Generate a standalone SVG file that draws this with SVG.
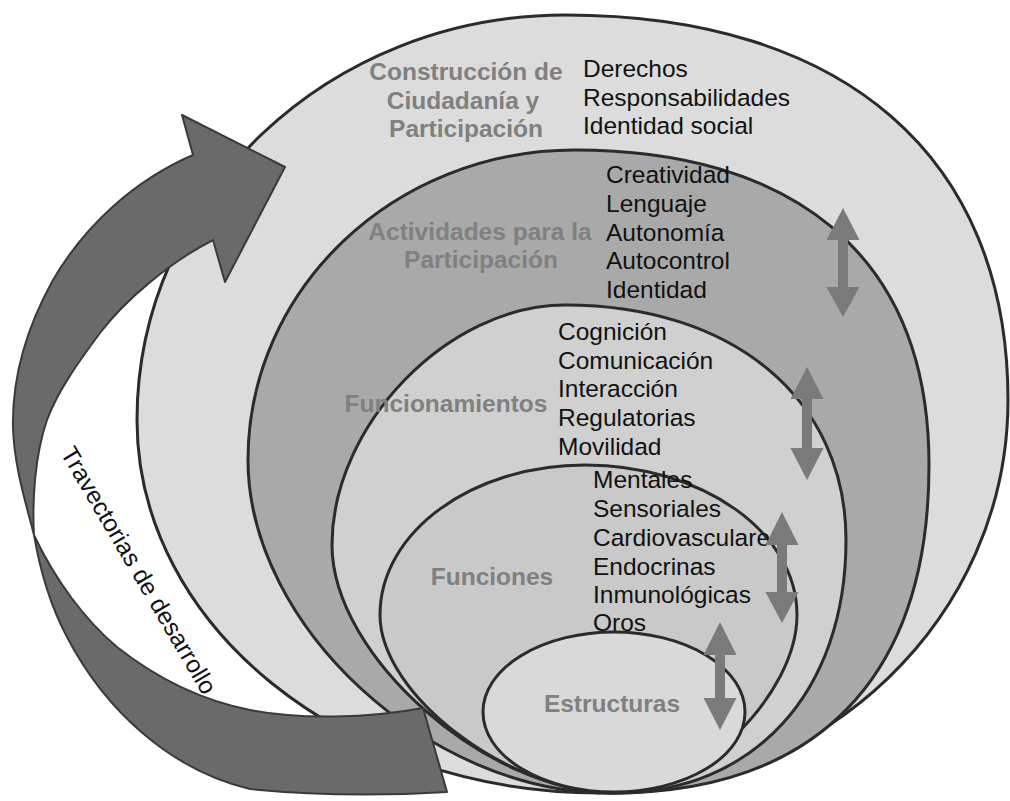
<svg xmlns="http://www.w3.org/2000/svg" width="1010" height="801" viewBox="0 0 1010 801">
<style>
.ring{stroke:#2b2b2b;stroke-width:3}
.lbl{font-family:"Liberation Sans",Arial,sans-serif;font-size:24.5px;font-weight:bold;fill:#808080;text-anchor:middle}
.itm{font-family:"Liberation Sans",Arial,sans-serif;font-size:24.5px;fill:#111}
.dbl{fill:#7a7a7a}
.rib{fill:#6a6a6a;stroke:#3a3a3a;stroke-width:2;stroke-linejoin:round}
.trv{font-family:"Liberation Sans",Arial,sans-serif;font-size:24.5px;fill:#111}
</style>
<rect width="1010" height="801" fill="#ffffff"/>
<g id="ciudadania">
<path class="ring" fill="#dcdcdc" d="M137,420 C137,196 329,15 565,15 C844,15 1008,157 1008,400 C1008,617 825,793 600,793 C344,793 137,626 137,420 Z"/>
<text class="lbl"><tspan x="466" y="80">Construcción de</tspan><tspan x="463" y="108.5">Ciudadanía y</tspan><tspan x="466" y="137">Participación</tspan></text>
<text class="itm"><tspan x="583" y="77">Derechos</tspan><tspan x="583" y="105.5">Responsabilidades</tspan><tspan x="583" y="133.5">Identidad social</tspan></text>
</g>
<g id="actividades">
<path class="ring" fill="#a9a9a9" d="M248,460 C248,289 394,150 575,150 C787,150 929,250 929,465 C929,678 817,793 610,793 C429,793 248,626 248,460 Z"/>
<text class="lbl"><tspan x="480" y="240">Actividades para la</tspan><tspan x="481" y="268">Participación</tspan></text>
<text class="itm"><tspan x="606" y="183">Creatividad</tspan><tspan x="606" y="211.5">Lenguaje</tspan><tspan x="606" y="240.5">Autonomía</tspan><tspan x="606" y="269">Autocontrol</tspan><tspan x="606" y="298">Identidad</tspan></text>
</g>
<g id="funcionamientos">
<path class="ring" fill="#d0d0d0" d="M332,545 C332,425 448,305 565,305 C733,305 846,399 846,540 C846,692 754,793 615,793 C488,793 332,657 332,545 Z"/>
<text class="lbl" x="446" y="412">Funcionamientos</text>
<text class="itm"><tspan x="558" y="340">Cognición</tspan><tspan x="558" y="368.5">Comunicación</tspan><tspan x="558" y="397">Interacción</tspan><tspan x="558" y="426">Regulatorias</tspan><tspan x="558" y="455">Movilidad</tspan></text>
</g>
<g id="funciones">
<path class="ring" fill="#c9c9c9" d="M380,615 C380,532 472,465 585,465 C702,465 797,532 797,615 C797,695 697,793 615,793 C509,793 380,695 380,615 Z"/>
<text class="lbl" x="492" y="585">Funciones</text>
<text class="itm"><tspan x="593" y="488">Mentales</tspan><tspan x="593" y="517">Sensoriales</tspan><tspan x="593" y="546">Cardiovasculare</tspan><tspan x="593" y="574.5">Endocrinas</tspan><tspan x="593" y="603">Inmunológicas</tspan><tspan x="593" y="631">Oros</tspan></text>
</g>
<g id="estructuras">
<ellipse class="ring" fill="#d9d9d9" cx="614" cy="712" rx="131" ry="80"/>
<text class="lbl" x="612" y="712">Estructuras</text>
</g>
<g id="connectors">
<path class="dbl" d="M843,208 L859.5,240 L848,240 L848,287 L859.5,287 L843,317 L826.5,287 L838,287 L838,240 L826.5,240 Z"/>
<path class="dbl" d="M807,367 L823.5,399 L812,399 L812,448 L823.5,448 L807,480 L790.5,448 L802,448 L802,399 L790.5,399 Z"/>
<path class="dbl" d="M782,512 L798.5,545 L787,545 L787,592 L798.5,592 L782,623 L765.5,592 L777,592 L777,545 L765.5,545 Z"/>
<path class="dbl" d="M720,622 L736.5,655 L725,655 L725,698 L736.5,698 L720,730 L703.5,698 L715,698 L715,655 L703.5,655 Z"/>
<g id="trayectorias">
<path class="rib" d="M423,708 L447,792 C380,796 310,795 250,789 C170,770 105,710 67,637 C50,605 40,570 34,535 C25,500 14,465 13,427 C12,375 28,325 53,280 C85,225 135,180 193,155 L182,115 L285,167 L225,282 L213,240 C170,262 125,300 100,333 C80,360 58,390 47,420 C35,455 32,500 34,535 C55,580 85,620 117,647 C155,677 200,700 250,710 C300,720 370,718 423,708 Z"/>
<text class="trv" transform="translate(60,453) rotate(59.5)">Travectorias de desarrollo</text>
</g>
</g>
</svg>
